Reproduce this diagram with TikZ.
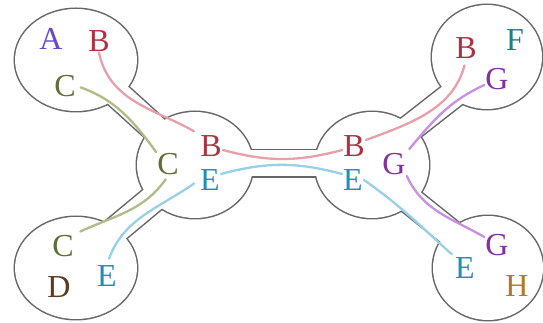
\documentclass[tikz,border=0pt]{standalone}
\usepackage{fontspec}
\setmainfont{Liberation Serif}
\usepackage{xcolor}
\usetikzlibrary{positioning}
\definecolor{rim}{HTML}{666666}
\definecolor{inkA}{HTML}{6A48C8}
\definecolor{inkB}{HTML}{B03040}
\definecolor{inkC}{HTML}{5E6E34}
\definecolor{inkD}{HTML}{5A3A20}
\definecolor{inkE}{HTML}{2090B0}
\definecolor{inkF}{HTML}{208080}
\definecolor{inkG}{HTML}{8030A0}
\definecolor{inkH}{HTML}{B07828}
\definecolor{lnB}{HTML}{E8A0A8}
\definecolor{lnC}{HTML}{B0BC88}
\definecolor{lnE}{HTML}{98D0E8}
\definecolor{lnG}{HTML}{C890E0}

\begin{document}
\begin{tikzpicture}[x=1pt, y=1pt, font=\fontsize{32pt}{32pt}\selectfont]
    \tikzset{
      v/.style={inner sep=1pt},
      lk/.style={line width=2.3pt, line cap=round},
      kB/.style={lk, draw=lnB},
      kC/.style={lk, draw=lnC},
      kE/.style={lk, draw=lnE},
      kG/.style={lk, draw=lnG}
    }
    \useasboundingbox (0,0) rectangle (543,323);
    \coordinate (tl) at (76,263);
    \coordinate (bl) at (76,55);
    \coordinate (ml) at (195,158);
    \coordinate (mr) at (372,158);
    \coordinate (tr) at (487,266);
    \coordinate (br) at (488,55);
    % tube ends
    \coordinate (tl1) at (76,266);  \coordinate (tl2) at (195,158);
    \coordinate (bl1) at (76,60);   \coordinate (bl2) at (195,159);
    \coordinate (mm1) at (195,159.5); \coordinate (mm2) at (372,159.5);
    \coordinate (tr1) at (372,165); \coordinate (tr2) at (487,255);
    \coordinate (br1) at (372,153); \coordinate (br2) at (488,60);
    % outline of the bags
    \foreach \c/\rx/\ry in {tl/61/51, bl/61/51, ml/58/53, mr/57/53, tr/55/52, br/55/52}
      \draw[rim, line width=3pt] (\c) ellipse [x radius=\rx pt, y radius=\ry pt];
    \foreach \a/\b in {tl1/tl2, bl1/bl2, mm1/mm2, tr1/tr2, br1/br2}
      \draw[rim, line width=29pt] (\a) -- (\b);
    \foreach \c/\rx/\ry in {tl/61/51, bl/61/51, ml/58/53, mr/57/53, tr/55/52, br/55/52}
      \fill[white] (\c) ellipse [x radius=\rx pt, y radius=\ry pt];
    \foreach \a/\b in {tl1/tl2, bl1/bl2, mm1/mm2, tr1/tr2, br1/br2}
      \draw[white, line width=26pt] (\a) -- (\b);
    % vertices
    \node[v, text=inkA] (tlA) at (51,284) {A};
    \node[v, text=inkB] (tlB) at (99,282) {B};
    \node[v, text=inkC] (tlC) at (65,237) {C};
    \node[v, text=inkC] (mlC) at (168,159) {C};
    \node[v, text=inkB] (mlB) at (211,177) {B};
    \node[v, text=inkE] (mlE) at (210,143) {E};
    \node[v, text=inkB] (mrB) at (354,177) {B};
    \node[v, text=inkE] (mrE) at (353,143) {E};
    \node[v, text=inkG] (mrG) at (394,159) {G};
    \node[v, text=inkC] (blC) at (63,77) {C};
    \node[v, text=inkD] (blD) at (59,36) {D};
    \node[v, text=inkE] (blE) at (107,47) {E};
    \node[v, text=inkB] (trB) at (466,275) {B};
    \node[v, text=inkF] (trF) at (515,283) {F};
    \node[v, text=inkG] (trG) at (497,244) {G};
    \node[v, text=inkG] (brG) at (497,78) {G};
    \node[v, text=inkE] (brE) at (465,55) {E};
    \node[v, text=inkH] (brH) at (517,37) {H};
    % copies of a vertex joined
    \draw[kB, shorten >=6pt] (tlB.south) to[out=-78, in=150] (mlB.north west);
    \draw[kC, shorten <=4pt] (tlC.east) to[out=-20, in=126] (mlC.north west);
    \draw[kB] ([yshift=-4pt]mlB.east) to[out=-15, in=195] ([yshift=-4pt]mrB.west);
    \draw[kE] ([yshift=6pt]mlE.east) to[out=15, in=165] ([yshift=6pt]mrE.west);
    \draw[kC, shorten <=4pt, shorten >=6pt] (mlC.south) to[out=-125, in=25] (blC.north east);
    \draw[kE, shorten <=6pt, shorten >=6pt] (mlE.west) to[out=215, in=70] (blE.north);
    \draw[kB, shorten >=6pt] ([yshift=6pt]mrB.east) to[out=20, in=-105] (trB.south);
    \draw[kG, shorten <=4pt] (mrG.north east) to[out=50, in=205] ([yshift=-6pt]trG.west);
    \draw[kG] (mrG.south east) to[out=-65, in=150] ([yshift=8pt]brG.west);
    \draw[kE, shorten >=3pt] (mrE.east) to[out=-35, in=138] (brE.north west);
  \end{tikzpicture}
\end{document}
